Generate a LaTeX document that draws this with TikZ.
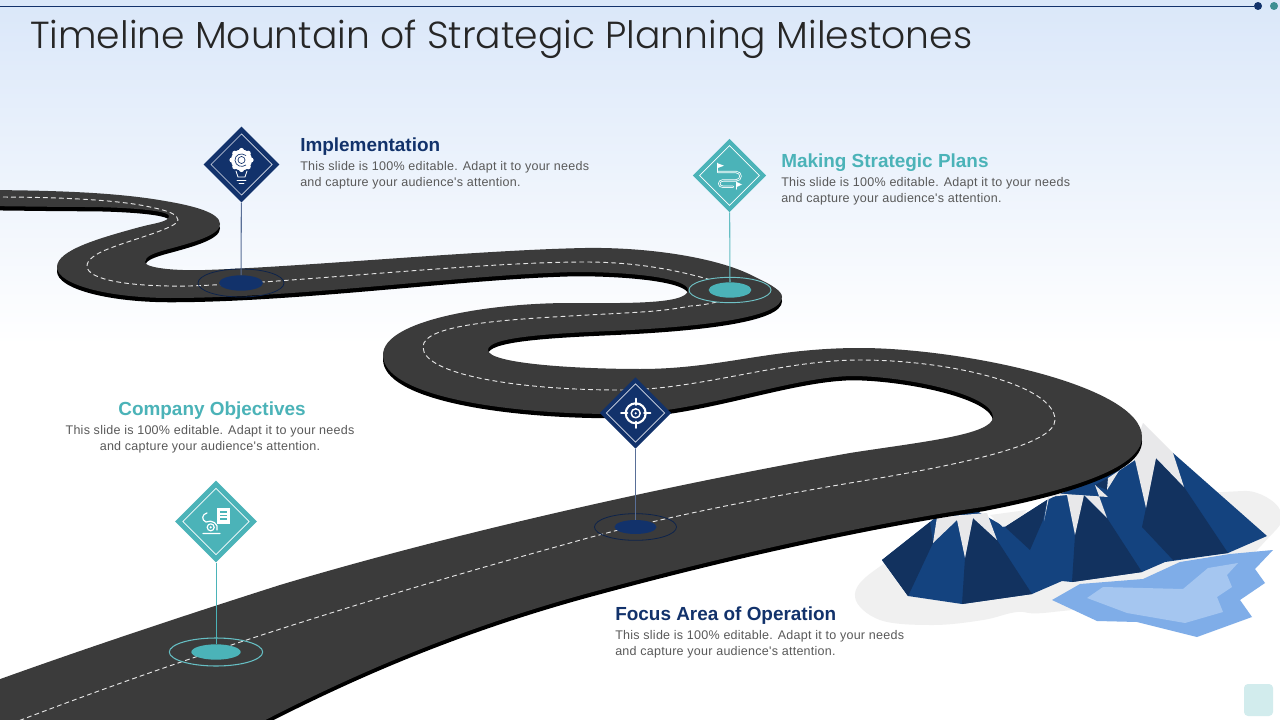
\documentclass[tikz,border=0pt]{standalone}
\usepackage{fontspec}
\setmainfont{Liberation Sans}
\newfontfamily\titlefont{Poppins Light}
\newfontfamily\bodyfont[LetterSpace=2]{Liberation Sans}
\usetikzlibrary{shapes.geometric,positioning}
\definecolor{navy}{HTML}{12326B}
\definecolor{teal}{HTML}{4BB3B8}
\definecolor{bodygray}{HTML}{595959}
\definecolor{asphalt}{HTML}{3B3B3B}
\definecolor{peakdark}{HTML}{12325F}
\definecolor{peakmid}{HTML}{14437F}
\definecolor{snowgray}{HTML}{E8E8EA}
\definecolor{bgtop}{HTML}{DAE7F9}
\definecolor{lakeouter}{HTML}{7FADE8}
\definecolor{lakeinner}{HTML}{A5C6F0}
\tikzset{
  diamondmark/.style={diamond,aspect=1,inner sep=0pt,minimum size=#1},
  spot/.style={ellipse,inner sep=0pt,minimum width=#1},
  headtext/.style={font=\bfseries\fontsize{14.2}{18}\selectfont,inner sep=0pt},
  bodytext/.style={font=\bodyfont\fontsize{9.4}{12}\selectfont,text=bodygray,inner sep=0pt},
  icon/.style={draw=white,line width=0.9pt,line cap=round,line join=round}
}
\def\roadoutline{(-30,190) .. controls (60,190) and (120,193) .. (165,201)
  .. controls (195,206) and (220,213) .. (220,224) .. controls (220,235) and (195,242) .. (165,250)
  .. controls (155,253) and (145,256) .. (145,262) .. controls (145,268) and (175,271) .. (205,270)
  .. controls (300,267) and (480,250) .. (585,248) .. controls (650,247) and (720,258) .. (755,277)
  .. controls (772,285) and (782,291) .. (782,297) .. controls (782,318) and (700,327) .. (610,331)
  .. controls (540,334) and (488,338) .. (488,350) .. controls (488,364) and (580,369) .. (640,369)
  .. controls (720,369) and (770,348) .. (860,348) .. controls (960,348) and (1142,385) .. (1142,437)
  .. controls (1142,470) and (1060,492) .. (983,507) .. controls (880,522) and (740,552) .. (600,590)
  .. controls (480,622) and (370,665) .. (250,728) -- (-30,740) -- (-30,690)
  .. controls (60,657) and (170,620) .. (280,585) .. controls (430,540) and (640,490) .. (850,453)
  .. controls (920,442) and (993,435) .. (993,417) .. controls (993,395) and (910,377) .. (855,376)
  .. controls (790,376) and (700,414) .. (615,414) .. controls (500,414) and (383,395) .. (383,355)
  .. controls (383,320) and (490,303) .. (570,303) .. controls (620,303) and (688,305) .. (688,290)
  .. controls (688,278) and (630,272) .. (577,272) .. controls (470,274) and (300,298) .. (170,298)
  .. controls (110,298) and (57,285) .. (57,267) .. controls (57,250) and (100,238) .. (140,227)
  .. controls (155,223) and (169,222) .. (169,216) .. controls (169,210) and (120,207) .. (85,207)
  .. controls (50,207) and (0,206) .. (-30,206) -- cycle}
\begin{document}
\begin{tikzpicture}[x=0.75pt,y=-0.75pt]
\path[use as bounding box,clip] (0,0) rectangle (1280,720);
\fill[white] (0,0) rectangle (1280,720);
\fill[top color=bgtop,bottom color=white] (0,0) rectangle (1280,345);
\node[circle,fill=navy,minimum size=6pt,inner sep=0pt] (dotA) at (1258,6) {};
\node[circle,fill=teal!80!black,minimum size=6pt,inner sep=0pt] (dotB) at (1274,6) {};
\coordinate (linestart) at (0,6);
\draw[navy,line width=0.7pt] (linestart) -- (dotA);
\fill[teal!25,rounded corners=3pt] (1244,684) rectangle (1273,716);
\node[anchor=west,inner sep=0pt,font=\titlefont\fontsize{28.25}{34}\selectfont,text=black!85] (title) at (30,39) {Timeline Mountain of Strategic Planning Milestones};
\fill[black!6] plot[smooth cycle,tension=0.6] coordinates {(855,597) (875,570) (950,530) (1100,500) (1223,492) (1257,493) (1280,510) (1273,533) (1200,590) (1053,612) (1017,612) (983,620) (933,625) (880,620)};
\fill[peakmid] (882,560) -- (935,518) -- (975,510) -- (1005,527) -- (1047,500) -- (1090,480) -- (1130,450) -- (1173,453) -- (1267,536) -- (1228,553) -- (1165,562) -- (1142,572) -- (1072,582) -- (1062,581) -- (1032,594) -- (962,604) -- (908,596) -- cycle;
\fill[peakdark] (882,560) -- (930,522) -- (933,543) -- (910,592) -- (908,596) -- cycle;
\fill[peakdark] (962,604) -- (965,558) -- (973,518) -- (997,540) -- (1032,594) -- cycle;
\fill[peakdark] (1005,527) -- (1047,500) -- (1043,520) -- (1030,550) -- cycle;
\fill[peakdark] (1072,582) -- (1075,535) -- (1083,495) -- (1107,518) -- (1142,572) -- cycle;
\fill[peakdark] (1142,527) -- (1146,508) -- (1156,458) -- (1184,487) -- (1228,553) -- (1173,560) -- cycle;
\fill[peakdark] (1095,485) -- (1108,478) -- (1107,490) -- cycle;
\fill[snowgray] (933,543) -- (957,520) -- (965,558) -- (973,518) -- (997,540) -- (987,513) -- (937,517) -- cycle;
\fill[snowgray] (1044,521) -- (1048,497) -- (1067,495) -- (1075,535) -- (1084,495) -- (1107,518) -- (1095,485) -- (1108,497) -- (1050,493) -- cycle;
\fill[snowgray] (1107,490) -- (1108,478) -- (1135,460) -- (1146,508) -- (1156,458) -- (1184,487) -- (1173,453) -- (1143,423) -- (1135,445) -- cycle;
\fill[black!6] (1003,527) -- (1027,510) -- (990,515) -- cycle;
\fill[lakeouter] (1052,600) -- (1080,584) -- (1143,579) -- (1180,562) -- (1230,554) -- (1273,550) -- (1255,569) -- (1265,583) -- (1240,600) -- (1252,617) -- (1197,637) -- (1137,622) -- (1097,621) -- cycle;
\fill[lakeinner] (1087,598) -- (1103,587) -- (1183,589) -- (1208,568) -- (1238,563) -- (1227,575) -- (1232,587) -- (1217,597) -- (1223,612) -- (1185,623) -- (1127,613) -- cycle;
\fill[black,yshift=-3.2pt] \roadoutline;
\fill[asphalt] \roadoutline;
\draw[white!90!black,line width=0.7pt,dash pattern=on 3.6pt off 2.4pt] (-5,197) .. controls (60,197) and (120,200) .. (150,207)
  .. controls (170,211) and (178,215) .. (178,220) .. controls (178,228) and (130,240) .. (108,249)
  .. controls (95,254) and (87,260) .. (87,266) .. controls (87,280) and (130,287) .. (190,286)
  .. controls (300,282) and (480,262) .. (585,262) .. controls (650,262) and (700,275) .. (745,291)
  .. controls (735,300) and (700,306) .. (690,306) .. controls (660,312) and (640,312) .. (570,316)
  .. controls (500,320) and (423,325) .. (423,347) .. controls (423,375) and (520,390) .. (620,390)
  .. controls (700,390) and (780,360) .. (860,360) .. controls (950,360) and (1055,385) .. (1055,420)
  .. controls (1055,445) and (960,465) .. (850,483) .. controls (750,500) and (650,520) .. (570,543)
  .. controls (400,590) and (200,650) .. (-5,730);
% stops and markers
\node[spot=64.5pt,minimum height=21pt,draw=navy!70!black,line width=0.6pt] (ringA) at (241,283) {};
\node[spot=33pt,minimum height=11.5pt,fill=navy] (spotA) at (241,283) {};
\node[spot=61.5pt,minimum height=19pt,draw=teal!80!white,fill=asphalt,line width=0.7pt] (ringB) at (730,290) {};
\node[spot=32pt,minimum height=11.5pt,fill=teal] (spotB) at (730,290) {};
\node[spot=61.5pt,minimum height=20pt,draw=navy!70!black,line width=0.6pt] (ringC) at (635.5,527) {};
\node[spot=31.5pt,minimum height=10.5pt,fill=navy] (spotC) at (635.5,527) {};
\node[spot=70pt,minimum height=21pt,draw=teal!85!white,line width=0.8pt] (ringD) at (216,652) {};
\node[spot=37pt,minimum height=11.5pt,fill=teal] (spotD) at (216,652) {};
\node[diamondmark=57pt,fill=navy] (markA) at (241.5,164.5) {};
\node[diamondmark=46pt,draw=white!85!navy,line width=0.5pt] (innerA) at (241.5,164.5) {};
\node[diamondmark=55pt,fill=teal] (markB) at (729.5,175.5) {};
\node[diamondmark=45pt,draw=white,line width=0.5pt] (innerB) at (729.5,175.5) {};
\node[diamondmark=53.5pt,fill=navy] (markC) at (635.5,413) {};
\node[diamondmark=44pt,draw=white!85!navy,line width=0.5pt] (innerC) at (635.5,413) {};
\node[diamondmark=61.5pt,fill=teal] (markD) at (216,521.5) {};
\node[diamondmark=50pt,draw=white,line width=0.5pt] (innerD) at (216,521.5) {};
\draw[navy!70!white,line width=0.8pt] (markA) -- (spotA);
\draw[teal!85!white,line width=0.8pt] (markB) -- (spotB);
\draw[navy!70!white,line width=0.8pt] (markC) -- (spotC);
\draw[teal,line width=0.7pt] (markD) -- (spotD);
% bulb
\fill[white] (241.5,160) circle (10.5);
\foreach \a in {0,45,...,315}
  \fill[white] (241.5,160) ++(\a:9.5) circle (2.6);
\draw[navy,line width=0.5pt] (241.5,160) circle (3.5);
\draw[navy,line width=0.5pt] (246,155.5) .. controls (241,152) and (234.5,155) .. (235,160.5) .. controls (235.5,166) and (242,168) .. (246,165);
\draw[icon,line width=0.7pt] (236,171) -- (238,177) -- (245,177) -- (247,171);
\draw[icon,line width=0.7pt] (237,180) -- (246,180) (239,183) -- (244,183);
% flags
\draw[icon] (717.7,172) -- (717.7,163.3) (736.7,182) -- (736.7,189);
\fill[white] (717.7,163.3) -- (724,165.7) -- (717.7,168) -- cycle (736.7,182) -- (742,184.5) -- (736.7,187) -- cycle;
\draw[icon,line width=1.7pt] (718,172) -- (736,172) .. controls (742,172) and (742,180.4) .. (736,180.4) -- (723,180.4) .. controls (718,180.4) and (718,186.8) .. (723,186.8) -- (733,186.8);
\draw[teal,line width=0.5pt] (718,172) -- (736,172) .. controls (742,172) and (742,180.4) .. (736,180.4) -- (723,180.4) .. controls (718,180.4) and (718,186.8) .. (723,186.8) -- (733,186.8);
% target
\draw[icon,line width=1.6pt] (635.7,413.3) circle (10);
\draw[icon,line width=1.1pt] (635.7,413.3) circle (4.5);
\fill[white] (635.7,413.3) circle (1.2);
\draw[icon,line width=1.3pt] (635.7,398.5) -- (635.7,405) (635.7,421.5) -- (635.7,428) (621,413.3) -- (627.5,413.3) (644,413.3) -- (650.5,413.3);
% document and cycle
\fill[white] (217,508) rectangle (230,523.5);
\draw[teal,line width=0.8pt] (220,512) -- (227,512) (220,515.5) -- (227,515.5) (220,519) -- (227,519);
\draw[icon] (210.7,527.3) circle (3.5);
\fill[white] (210.7,527.3) circle (1.2);
\draw[icon] (203,533.5) -- (220,533.5) (207,513) .. controls (202,514) and (201,520) .. (206,522) .. controls (212,519) and (219,524) .. (217,530);
% texts
\node[headtext,anchor=west,text=navy] (headA) at (300,147) {Implementation};
\node[bodytext,align=left,below=3.75pt of headA.south west,anchor=north west] (bodyA) {This slide is 100\% editable. Adapt it to your needs\\and capture your audience's attention.};
\node[headtext,anchor=west,text=teal] (headB) at (781,163) {Making Strategic Plans};
\node[bodytext,align=left,below=3.75pt of headB.south west,anchor=north west] (bodyB) {This slide is 100\% editable. Adapt it to your needs\\and capture your audience's attention.};
\node[headtext,text=teal] (headD) at (212,411) {Company Objectives};
\node[bodytext,align=center,below=3.75pt of headD,xshift=-1.5pt] (bodyD) {This slide is 100\% editable. Adapt it to your needs\\and capture your audience's attention.};
\node[headtext,anchor=west,text=navy] (headC) at (615,616) {Focus Area of Operation};
\node[bodytext,align=left,below=3.75pt of headC.south west,anchor=north west] (bodyC) {This slide is 100\% editable. Adapt it to your needs\\and capture your audience's attention.};
\end{tikzpicture}
\end{document}
